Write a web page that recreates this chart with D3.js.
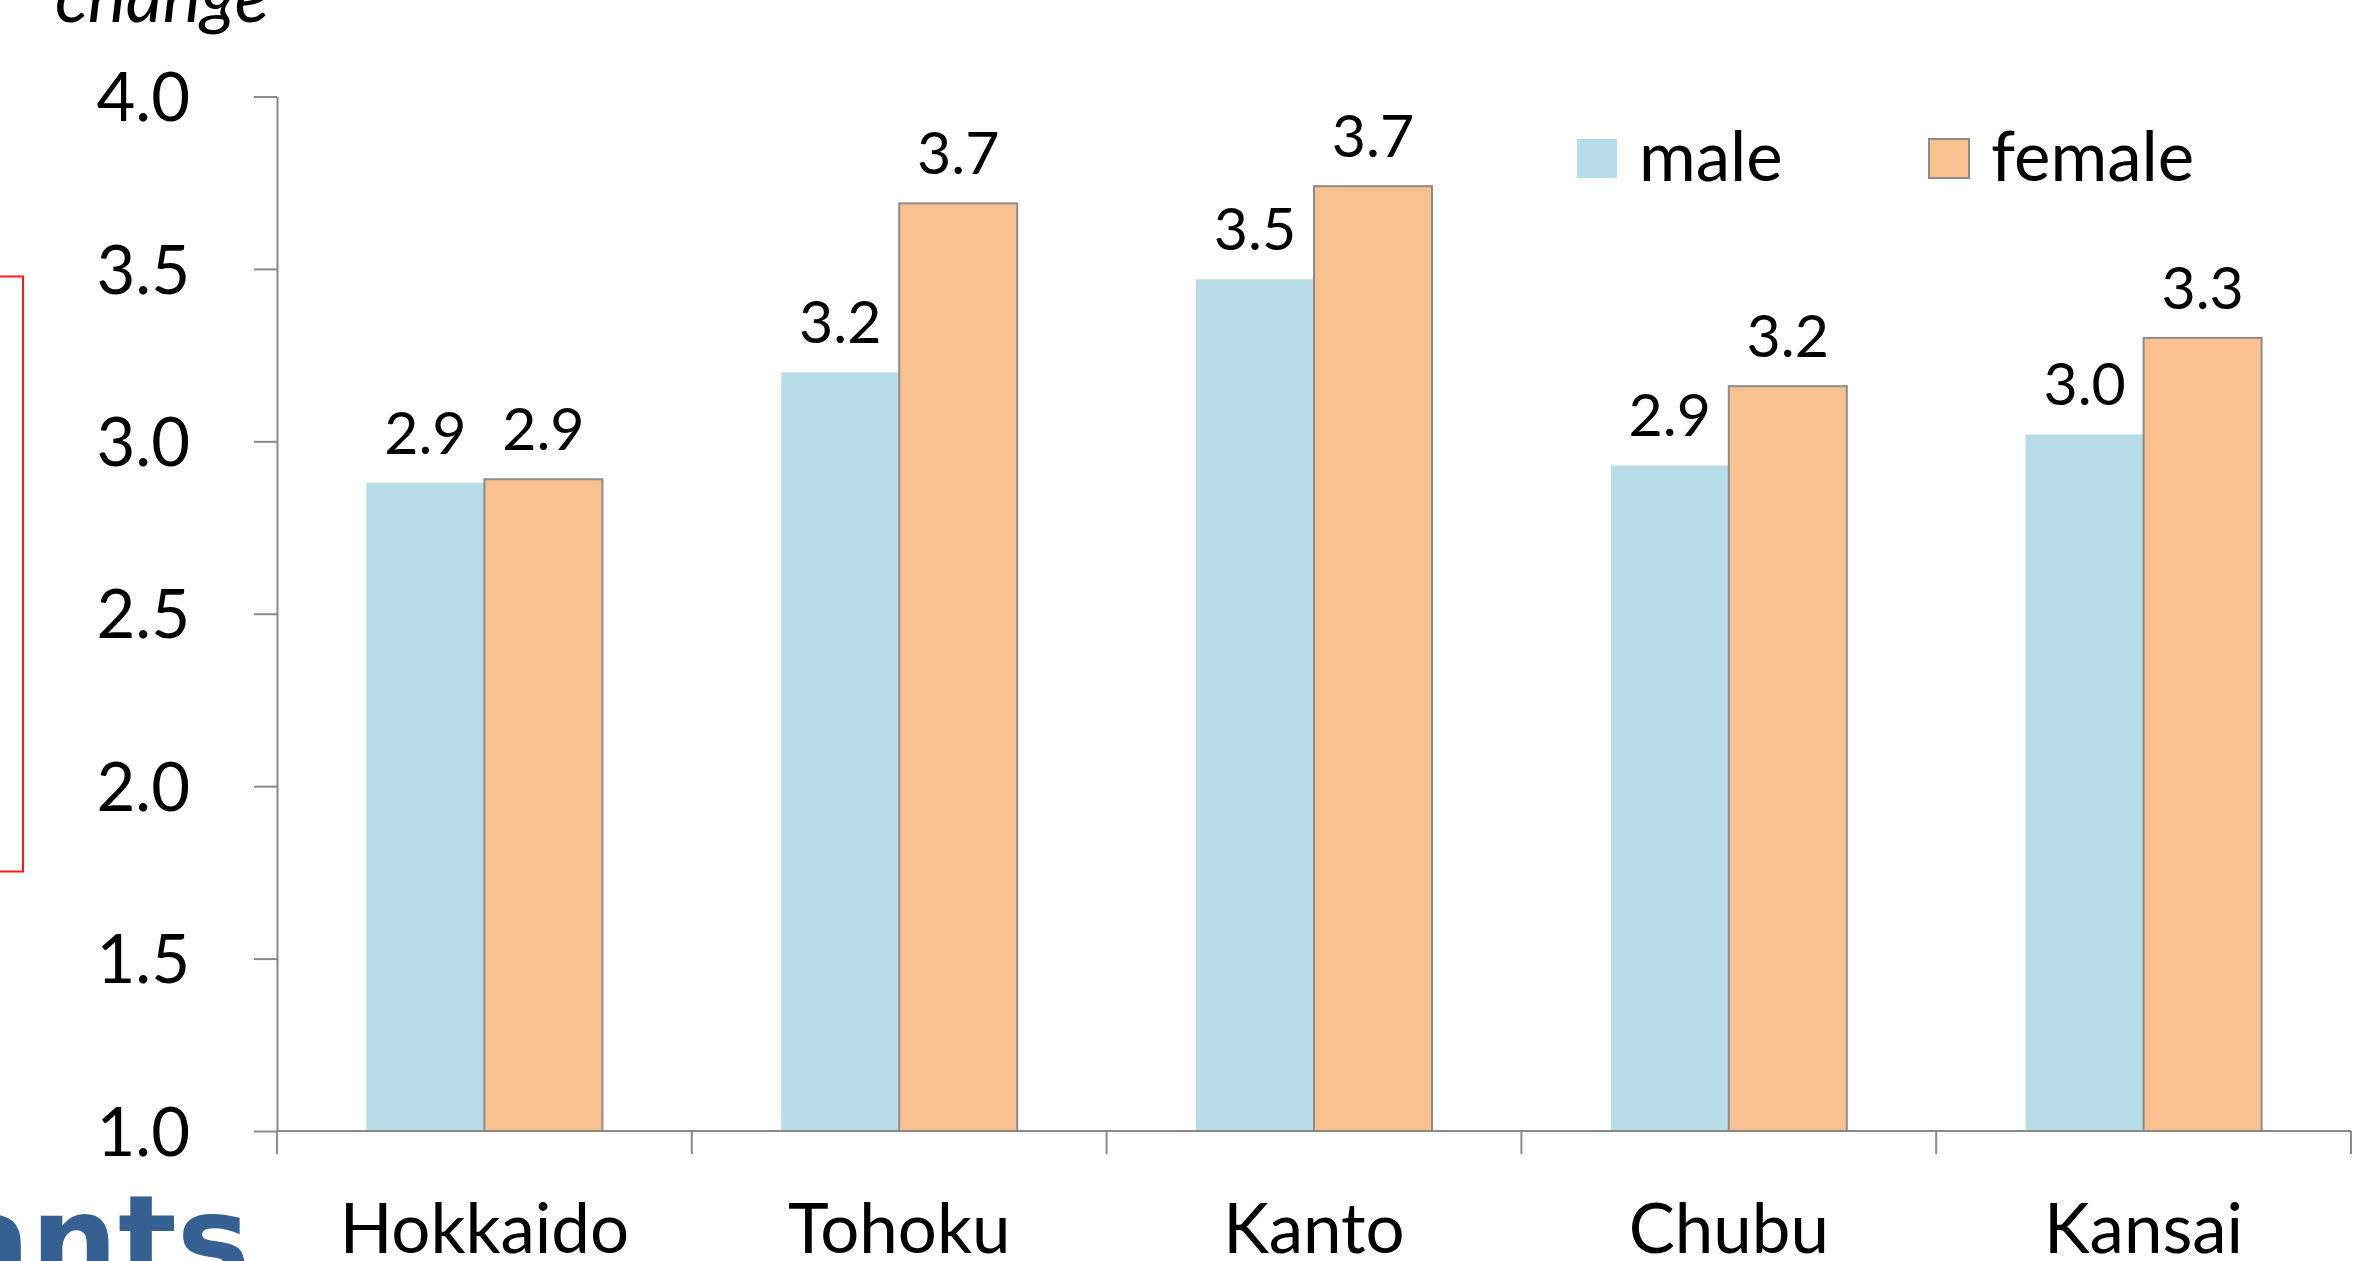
<html>
<head>
    <style>
        body {
            margin: 0;
            background-color: white;
            overflow: hidden;
        }
        svg text {
            font-family: Lato, "Open Sans", sans-serif;
            fill: black;
        }
        .axis path, .axis line {
            stroke: #8a8a8a;
            stroke-width: 2px;
        }
    </style>
    <script src="https://cdn.jsdelivr.net/npm/d3@7"></script>
</head>
<body>
<svg id="chart"></svg>
<script>
    let regions = ["Hokkaido", "Tohoku", "Kanto", "Chubu", "Kansai"]
    let groups = ["male", "female"]
    let maleValues = [2.88, 3.20, 3.47, 2.93, 3.02]
    let femaleValues = [2.89, 3.69, 3.74, 3.16, 3.30]
    let yTicks = [1.0, 1.5, 2.0, 2.5, 3.0, 3.5, 4.0]

    let colors = {male: "#b7dde8", female: "#f9c190"}

    let width = 2369
    let height = 1261

    let svg = d3.select("#chart")
        .attr("width", width)
        .attr("height", height)

    // rows for the bars
    let rows = []
    regions.forEach((r, i) => {
        rows.push({region: r, group: "male", value: maleValues[i]})
        rows.push({region: r, group: "female", value: femaleValues[i]})
    })

    let x = d3.scaleBand()
        .domain(regions)
        .range([277, 2351])
        .paddingInner(0.431)
        .paddingOuter(0.2155)

    let xSub = d3.scaleBand()
        .domain(groups)
        .range([0, x.bandwidth()])

    let y = d3.scaleLinear()
        .domain([1, 4])
        .range([1131, 96.5])

    // stuff around the chart (cut off pieces of the slide)
    svg.append("text")
        .attr("x", 55)
        .attr("y", 22)
        .style("font-style", "italic")
        .style("font-size", "72px")
        .text("change")

    svg.append("rect")
        .attr("x", -10)
        .attr("y", 276.5)
        .attr("width", 33)
        .attr("height", 595)
        .attr("fill", "none")
        .attr("stroke", "#ff1a1a")
        .attr("stroke-width", 2)

    svg.append("text")
        .attr("x", 250)
        .attr("y", 1283)
        .attr("text-anchor", "end")
        .style("font-family", "'DejaVu Sans', sans-serif")
        .style("font-weight", "bold")
        .style("font-size", "123px")
        .style("fill", "#376092")
        .text("Participants")

    // bars
    svg.selectAll("rect.bar")
        .data(rows)
        .enter()
        .append("rect")
        .attr("class", "bar")
        .attr("x", d => x(d.region) + xSub(d.group))
        .attr("y", d => y(d.value))
        .attr("width", xSub.bandwidth())
        .attr("height", d => y(1) - y(d.value))
        .attr("fill", d => colors[d.group])
        .attr("stroke", d => d.group == "female" ? "#8c8c8c" : "none")
        .attr("stroke-width", 2)

    // data labels
    svg.selectAll("text.label")
        .data(rows)
        .enter()
        .append("text")
        .attr("class", "label")
        .attr("x", d => x(d.region) + xSub(d.group) + xSub.bandwidth() / 2)
        .attr("y", d => y(d.value) - 29)
        .attr("text-anchor", "middle")
        .style("font-size", "59px")
        .text(d => d3.format(".1f")(d.value))

    // y axis
    let yAxis = svg.append("g")
        .attr("class", "axis")
        .attr("transform", "translate(277,0)")
        .call(d3.axisLeft(y).tickValues(yTicks).tickSize(23).tickSizeOuter(0).tickPadding(64).tickFormat(d3.format(".1f")))
    yAxis.selectAll("text")
        .style("font-size", "67px")
        .style("font-family", "Lato, sans-serif")
        .attr("dy", "0.36em")

    // x axis line and ticks between the groups
    let xAxis = svg.append("g").attr("class", "axis")
    xAxis.append("line")
        .attr("x1", x.range()[0]).attr("x2", x.range()[1])
        .attr("y1", y(1)).attr("y2", y(1))
    let edges = d3.range(regions.length + 1).map(i => x.range()[0] + i * x.step())
    xAxis.selectAll("line.tick")
        .data(edges)
        .enter()
        .append("line")
        .attr("class", "tick")
        .attr("x1", d => d).attr("x2", d => d)
        .attr("y1", y(1)).attr("y2", y(1) + 23)

    svg.selectAll("text.cat")
        .data(regions)
        .enter()
        .append("text")
        .attr("class", "cat")
        .attr("x", d => x(d) + x.bandwidth() / 2)
        .attr("y", 1253)
        .attr("text-anchor", "middle")
        .style("font-size", "69px")
        .text(d => d)

    // legend
    let legendX = {male: 1577, female: 1929}
    let legend = svg.selectAll("g.legend")
        .data(groups)
        .enter()
        .append("g")
        .attr("class", "legend")
        .attr("transform", d => "translate(" + legendX[d] + ",139)")
    legend.append("rect")
        .attr("width", 40)
        .attr("height", 39)
        .attr("fill", d => colors[d])
        .attr("stroke", d => d == "female" ? "#8c8c8c" : "none")
        .attr("stroke-width", 2)
    legend.append("text")
        .attr("x", 62)
        .attr("y", 42)
        .style("font-size", "69px")
        .text(d => d)
</script>
</body>
</html>
